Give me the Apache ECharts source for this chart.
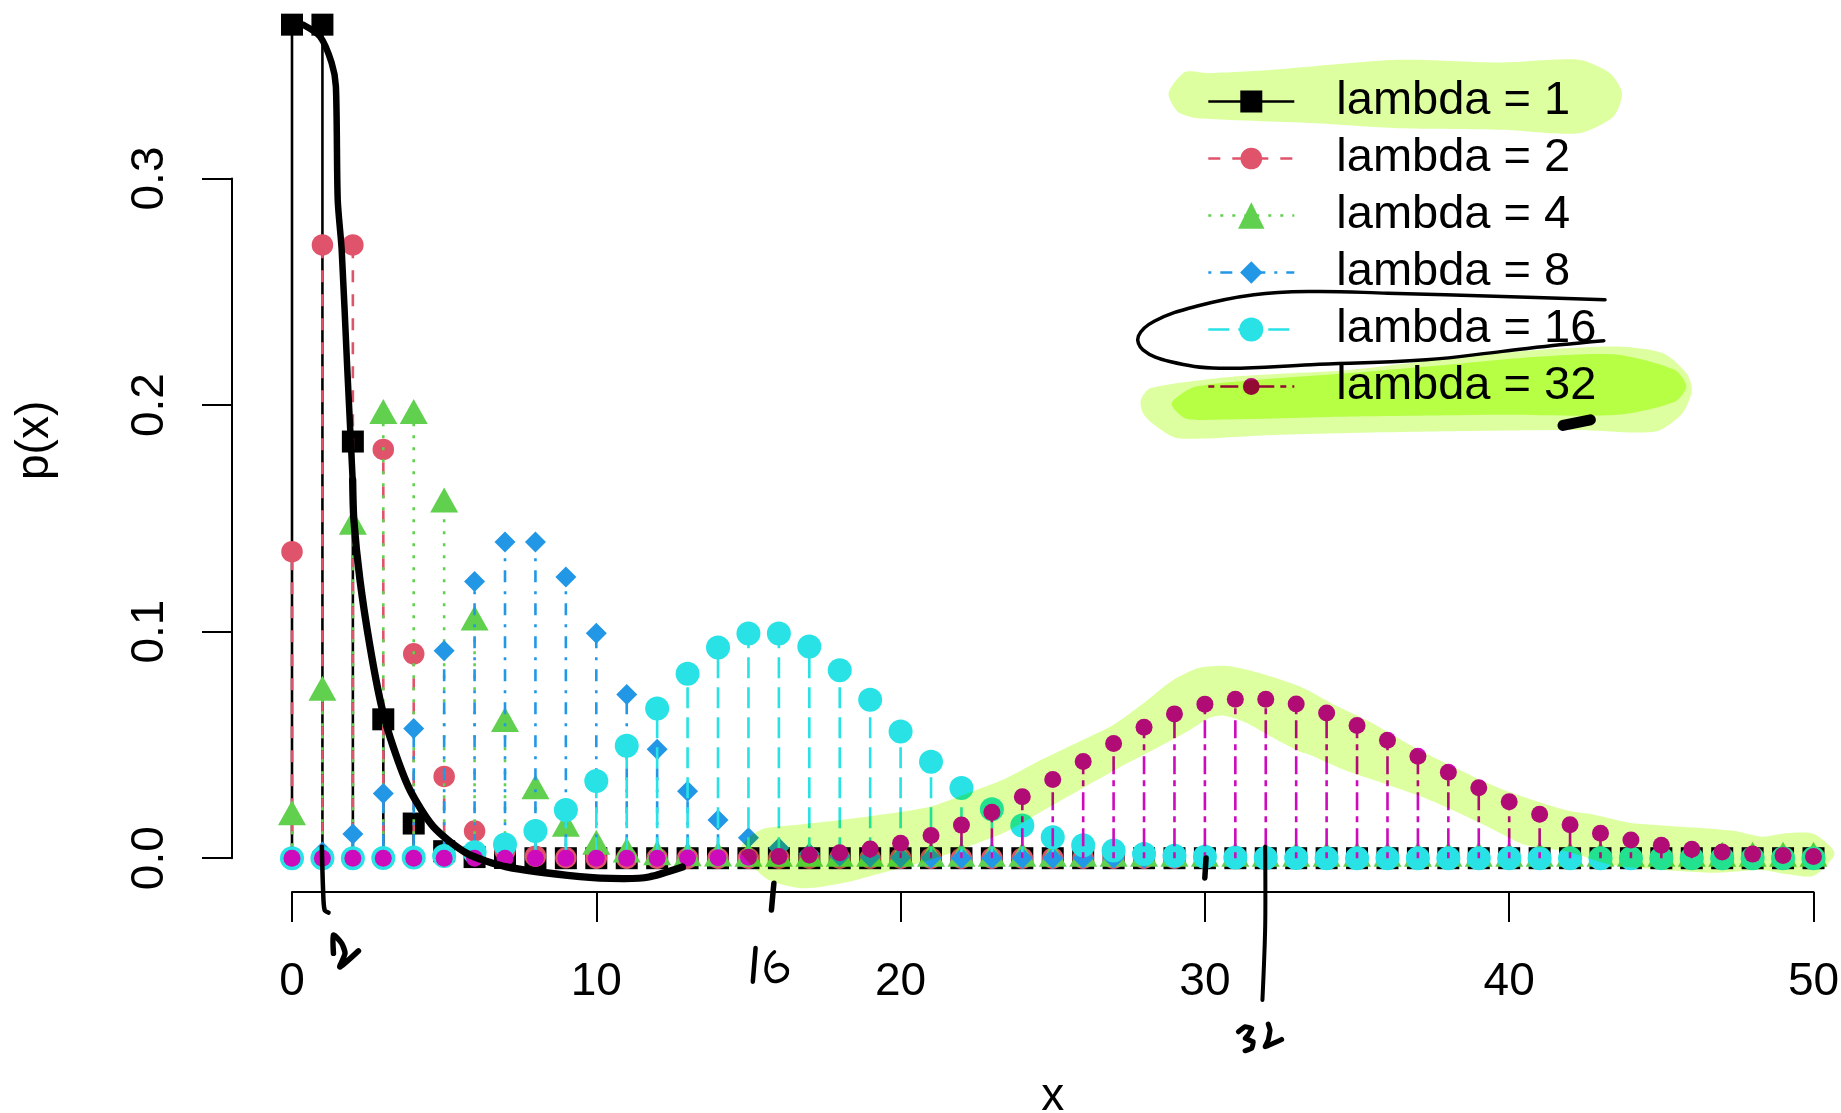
<!DOCTYPE html>
<html>
<head>
<meta charset="utf-8">
<style>html,body{margin:0;padding:0;background:#fff}#c{width:1841px;height:1113px}</style>
<script src="https://cdn.jsdelivr.net/npm/echarts@6/dist/echarts.min.js"></script>
</head>
<body>
<div id="c"></div>
<script>
const xValues = [0,1,2,3,4,5,6,7,8,9,10,11,12,13,14,15,16,17,18,19,20,21,22,23,24,25,26,27,28,29,30,31,32,33,34,35,36,37,38,39,40,41,42,43,44,45,46,47,48,49,50];
const lambda1 = [.3679,.3679,.1839,.0613,.0153,.0031,.0005,.0001,0,0,0,0,0,0,0,0,0,0,0,0,0,0,0,0,0,0,0,0,0,0,0,0,0,0,0,0,0,0,0,0,0,0,0,0,0,0,0,0,0,0,0];
const lambda2 = [.1353,.2707,.2707,.1804,.0902,.0361,.0120,.0034,.0009,.0002,0,0,0,0,0,0,0,0,0,0,0,0,0,0,0,0,0,0,0,0,0,0,0,0,0,0,0,0,0,0,0,0,0,0,0,0,0,0,0,0,0];
const lambda4 = [.0183,.0733,.1465,.1954,.1954,.1563,.1042,.0595,.0298,.0132,.0053,.0019,.0006,.0002,.0001,0,0,0,0,0,0,0,0,0,0,0,0,0,0,0,0,0,0,0,0,0,0,0,0,0,0,0,0,0,0,0,0,0,0,0,0];
const lambda8 = [.0003,.0027,.0107,.0286,.0573,.0916,.1221,.1396,.1396,.1241,.0993,.0722,.0481,.0296,.0169,.0090,.0045,.0021,.0009,.0004,.0002,.0001,0,0,0,0,0,0,0,0,0,0,0,0,0,0,0,0,0,0,0,0,0,0,0,0,0,0,0,0,0];
const lambda16 = [0,0,0,.0001,.0003,.0010,.0026,.0060,.0120,.0213,.0341,.0496,.0661,.0814,.0930,.0992,.0992,.0934,.0830,.0699,.0559,.0426,.0310,.0216,.0144,.0092,.0057,.0034,.0019,.0011,.0006,.0003,.0001,.0001,0,0,0,0,0,0,0,0,0,0,0,0,0,0,0,0,0];
const lambda32 = [0,0,0,0,0,0,0,0,0,0,0,0,0,.0001,.0002,.0004,.0007,.0014,.0024,.0041,.0066,.0100,.0146,.0203,.0271,.0347,.0427,.0506,.0578,.0637,.0680,.0702,.0702,.0681,.0641,.0586,.0521,.0450,.0379,.0311,.0249,.0194,.0148,.0110,.0080,.0057,.0040,.0027,.0018,.0012,.0008];
const seriesNames = ['lambda = 1','lambda = 2','lambda = 4','lambda = 8','lambda = 16','lambda = 32'];
const seriesValues = [lambda1,lambda2,lambda4,lambda8,lambda16,lambda32];
const seriesColors = ['#000000','#DF536B','#61D04F','#2297E6','#28E2E5','#CD0BBC'];
const seriesDashes = [null,[12,12],[3,9],[3,9,12,9],[21,9],[6,6,18,6]];
const seriesSymbols = ['rect','circle','triangle','diamond','circle','circle'];
const seriesSizes = [22,21.5,[28,25],21,24,17];
const seriesOffsets = [[0,0],[0,0],[0,-4],[0,0],[0,0],[0,0]];
const legendIconHeights = [27.5,27,33,28,30,21];
const legendTops = [78,135,192,249,306,363];
const xTicks = [0,10,20,30,40,50];
const yTicks = [0,0.1,0.2,0.3];

/* Hand-drawn marks on the picture, in axis units */
const markerBand = [[15.02,.0095],[15.52,.0132],[16.53,.0147],[18.03,.0169],[19.67,.0198],[20.92,.0227],[22.17,.0287],[23.43,.0353],[24.68,.0441],[25.94,.0522],[26.94,.0588],[27.94,.0684],[28.83,.0779],[29.71,.0838],[30.59,.0849],[31.58,.0823],[33.07,.0758],[34.21,.0676],[35.35,.0603],[36.49,.0514],[37.62,.0434],[38.76,.0360],[39.90,.0294],[41.04,.0242],[41.84,.0210],[42.75,.0191],[43.89,.0157],[45.59,.0139],[47.30,.0121],[48.22,.0095],[49.02,.0110],[49.93,.0107],[50.61,.0022],[49.93,-.0077],[49.02,-.0070],[48.22,-.0052],[46.74,-.0064],[45.03,-.0052],[43.32,-.0030],[41.84,.0029],[40.47,.0058],[39.44,.0125],[38.31,.0198],[37.05,.0272],[35.80,.0331],[34.54,.0389],[33.41,.0456],[33.07,.0470],[32.22,.0529],[31.34,.0596],[30.59,.0629],[30.08,.0618],[29.46,.0566],[28.45,.0492],[27.19,.0404],[25.94,.0309],[24.68,.0213],[23.43,.0117],[22.17,.0051],[20.92,-.0008],[19.29,-.0067],[18.03,-.0111],[16.78,-.0133],[15.65,-.0096],[15.02,-.0023],[14.69,.0036]];
const markerLegend1 = [[28.76,.3377],[29.30,.3470],[30.05,.3465],[32.18,.3480],[36.33,.3524],[39.72,.3512],[42.22,.3524],[43.24,.3465],[43.64,.3377],[43.36,.3274],[42.22,.3200],[39.72,.3215],[36.33,.3222],[33.44,.3245],[29.67,.3267],[29.05,.3296]];
const markerLegend32Outer = [[27.85,.2023],[28.17,.2075],[30.93,.2126],[34.70,.2155],[38.46,.2214],[40.98,.2244],[43.49,.2258],[44.99,.2229],[45.75,.2141],[45.93,.2067],[45.62,.1964],[44.74,.1883],[42.23,.1890],[37.21,.1883],[32.18,.1868],[29.05,.1854],[28.29,.1913],[27.92,.1964]];
const markerLegend32Inner = [[28.86,.2008],[29.67,.2082],[34.70,.2141],[38.46,.2185],[40.98,.2214],[43.49,.2222],[45.37,.2155],[45.75,.2082],[45.37,.2015],[43.49,.1957],[39.72,.1957],[34.70,.1949],[30.30,.1935],[29.30,.1942]];
const inkCurveTop = [[.36,.3679],[.92,.3627],[1.30,.3511],[1.44,.3406],[1.50,.2906],[1.63,.2685],[1.81,.2170],[1.99,.1670]];
const inkCurveLow = [[1.99,.1670],[2.03,.1493],[2.23,.1228],[2.56,.0934],[2.94,.0669],[3.32,.0492],[3.87,.0301],[4.64,.0139],[5.73,.0022],[7.04,-.0038],[9.45,-.0081],[10.84,-.0090],[11.71,-.0083],[12.81,-.0039]];
const inkTick1 = [[.98,.0051],[1.02,-.0141],[1.07,-.0229],[1.20,-.0240]];
const inkTwo = [[1.36,-.0420],[1.36,-.0339],[1.63,-.0376],[1.74,-.0420],[1.57,-.0480],[2.18,-.0409]];
const inkTick16 = [[15.81,-.0111],[15.73,-.0229]];
const inkOne6 = [[15.21,-.0396],[15.12,-.0545]];
const inkSix = [[15.83,-.0413],[15.58,-.0463],[15.65,-.0530],[15.96,-.0542],[16.25,-.0508],[16.09,-.0472],[15.77,-.0479]];
const inkTick30 = [[29.99,.0001],[29.95,-.0087]];
const inkTick32 = [[31.93,.0051],[31.93,-.0302],[31.84,-.0626]];
const inkThree = [[31.05,-.0766],[31.27,-.0744],[31.49,-.0751],[31.37,-.0781],[31.27,-.0795],[31.54,-.0810],[31.49,-.0839],[31.27,-.0850]];
const inkTwo32 = [[32.03,-.0732],[32.09,-.0759],[32.03,-.0803],[31.93,-.0832],[32.47,-.0800]];
const inkLoop = [[43.08,.2465],[39.72,.2479],[35.96,.2494],[33.44,.2501],[31.56,.2487],[29.67,.2436],[28.29,.2370],[27.77,.2304],[27.92,.2244],[28.80,.2192],[30.43,.2163],[33.44,.2178],[37.21,.2200],[39.72,.2237],[41.60,.2266],[43.04,.2284]];
const inkSmear = [[41.70,.1910],[42.60,.1935]];

const FONT = '"Liberation Sans", Helvetica, Arial, sans-serif';
const FS = 46;

function stemSeries(i){
  return {
    name:'stems '+i, type:'custom', coordinateSystem:'cartesian2d', z:2+2*i, silent:true, animation:false,
    data:xValues.map((x,k)=>[x,seriesValues[i][k]]),
    renderItem:function(params,api){
      const a=api.coord([api.value(0),0]), b=api.coord([api.value(0),api.value(1)]);
      return {type:'line',shape:{x1:a[0],y1:a[1],x2:b[0],y2:b[1]},
        style:{stroke:seriesColors[i],lineWidth:2.6,lineDash:seriesDashes[i]||null,fill:null}};
    }
  };
}
function pointSeries(i){
  return {
    name:seriesNames[i], type:'line', z:3+2*i, silent:true, animation:false, clip:false,
    symbol:seriesSymbols[i], symbolSize:seriesSizes[i], symbolOffset:seriesOffsets[i], showSymbol:true,
    lineStyle:{opacity:0}, itemStyle:{color:seriesColors[i]},
    data:xValues.map((x,k)=>[x,seriesValues[i][k]])
  };
}
function inkSeries(name,path,opts){
  const s = {
    name:name, type:'custom', coordinateSystem:'cartesian2d', z:opts.z||41, silent:true, animation:false,
    data:[[path[0][0],path[0][1]]],
    renderItem:function(params,api){
      const pts=path.map(p=>api.coord([p[0]*1.0016,p[1]]));
      if(opts.fill){
        return {type:'polygon',shape:{points:pts,smooth:0.25},style:{fill:opts.fill,stroke:null}};
      }
      return {type:'polyline',shape:{points:pts,smooth:opts.smooth==null?0.3:opts.smooth},
        style:{stroke:'#000',lineWidth:opts.width,lineCap:'round',lineJoin:'round',fill:null}};
    }
  };
  if(opts.fill){ s.blendMode='multiply'; }
  return s;
}
const series=[];
seriesNames.forEach((n,i)=>{series.push(stemSeries(i));series.push(pointSeries(i));});
const HL='#DDFF9F';
series.push(inkSeries('band',markerBand,{fill:HL,z:40}));
series.push(inkSeries('legend1',markerLegend1,{fill:HL,z:40}));
series.push(inkSeries('legend32a',markerLegend32Outer,{fill:HL,z:40}));
series.push(inkSeries('legend32b',markerLegend32Inner,{fill:'#D2FF6F',z:40}));
series.push(inkSeries('curveTop',inkCurveTop,{width:6.5,smooth:0.25}));
series.push(inkSeries('curveLow',inkCurveLow,{width:7.3,smooth:0.25}));
series.push(inkSeries('tick1',inkTick1,{width:4.5}));
series.push(inkSeries('two',inkTwo,{width:5.5,smooth:0.2}));
series.push(inkSeries('tick16',inkTick16,{width:5.5}));
series.push(inkSeries('one',inkOne6,{width:4.5}));
series.push(inkSeries('six',inkSix,{width:3.5,smooth:0.5}));
series.push(inkSeries('tick30',inkTick30,{width:5.5}));
series.push(inkSeries('tick32',inkTick32,{width:4}));
series.push(inkSeries('three',inkThree,{width:5,smooth:0.1}));
series.push(inkSeries('two32',inkTwo32,{width:5,smooth:0.1}));
series.push(inkSeries('loop',inkLoop,{width:3.5,smooth:0.4}));
series.push(inkSeries('smear',inkSmear,{width:11,smooth:0}));

const legends=seriesNames.map((n,i)=>({
  show:true, data:[n], left:1207, top:legendTops[i], padding:0, orient:'vertical',
  itemWidth:86, itemHeight:legendIconHeights[i], selectedMode:false,
  textStyle:{fontFamily:FONT,fontSize:47,color:'#000',padding:[4,0,0,37]},
  lineStyle:{width:2.6,color:seriesColors[i],type:seriesDashes[i]||'solid',opacity:1}
}));

const chart=echarts.init(document.getElementById('c'),null,{renderer:'canvas',width:1841,height:1113});
chart.setOption({
  animation:false,
  backgroundColor:'#ffffff',
  legend:legends,
  grid:{left:292,right:27.5,top:178.5,height:679.7,containLabel:false,outerBoundsMode:'none'},
  xAxis:{
    type:'value',min:0,max:50,interval:10,offset:33.8,
    name:'x',nameLocation:'middle',nameGap:182,nameMoveOverlap:false,
    nameTextStyle:{fontFamily:FONT,fontSize:FS,color:'#000'},
    axisLine:{show:true,onZero:false,lineStyle:{color:'#000',width:2}},
    axisTick:{show:true,length:30,lineStyle:{color:'#000',width:2}},
    axisLabel:{show:true,margin:67,fontFamily:FONT,fontSize:FS,color:'#000',hideOverlap:false,
      customValues:xTicks,formatter:v=>String(v)},
    splitLine:{show:false}
  },
  yAxis:{
    type:'value',min:0,max:0.3,interval:0.1,offset:60,
    name:'p(x)',nameLocation:'middle',nameGap:173.5,nameRotate:90,nameMoveOverlap:false,
    nameTextStyle:{fontFamily:FONT,fontSize:FS,color:'#000',padding:[0,0,0,156]},
    axisLine:{show:true,onZero:false,lineStyle:{color:'#000',width:2}},
    axisTick:{show:true,length:30,lineStyle:{color:'#000',width:2}},
    axisLabel:{show:true,rotate:90,margin:58.5,fontFamily:FONT,fontSize:FS,color:'#000',hideOverlap:false,
      customValues:yTicks,formatter:v=>Number(v).toFixed(1)},
    splitLine:{show:false}
  },
  series:series
});
</script>
</body>
</html>
